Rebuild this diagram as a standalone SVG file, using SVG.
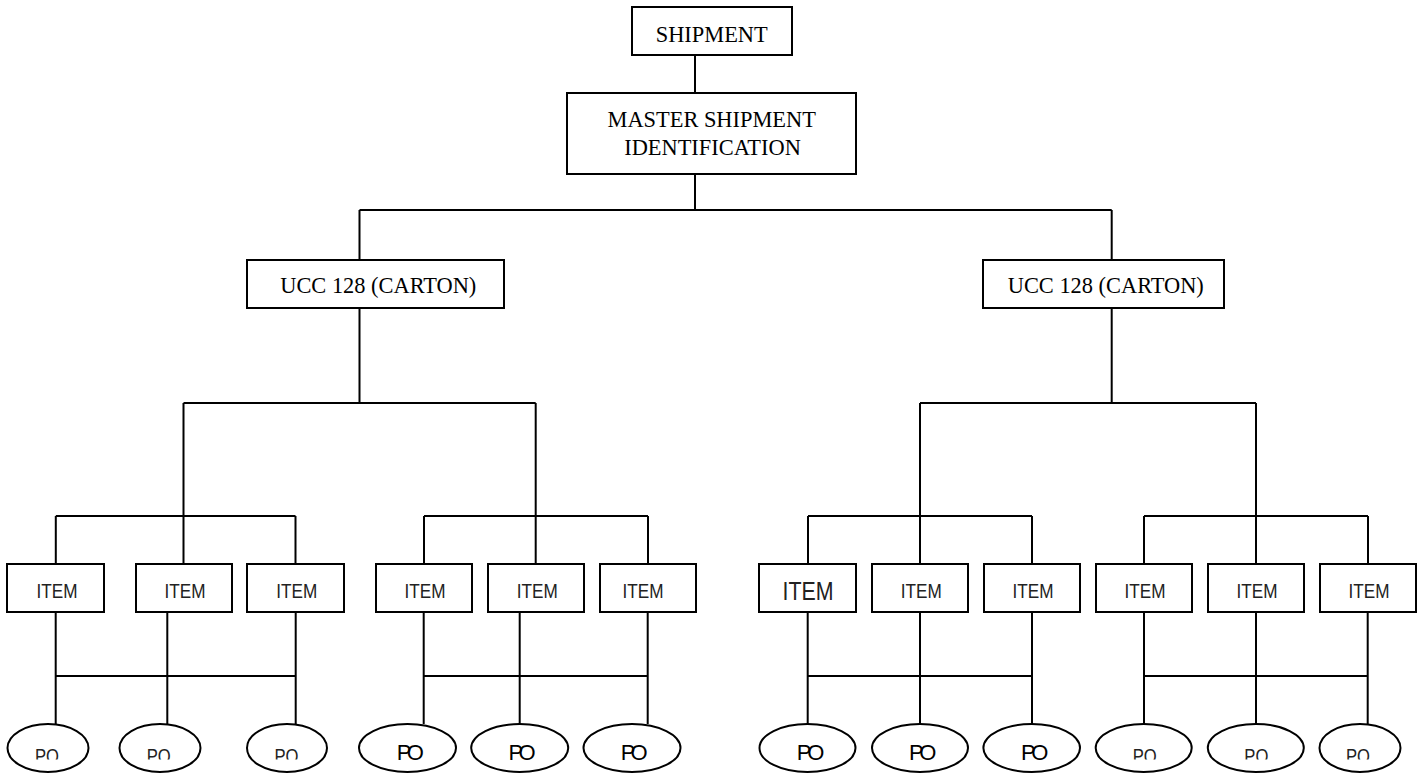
<svg xmlns="http://www.w3.org/2000/svg" width="1420" height="774" viewBox="0 0 1420 774">
<style>
.box{fill:#fff;stroke:#000;stroke-width:2}
.oval{fill:#fff;stroke:#000;stroke-width:2}
.serif{font-family:"Liberation Serif","Times New Roman",serif;font-size:22.4px;fill:#000;text-anchor:middle}
.narrow{font-family:"Liberation Sans Narrow","Liberation Sans",Arial,sans-serif;font-size:21px;fill:#222;text-anchor:middle}
.big{font-family:"Liberation Sans Narrow","Liberation Sans",Arial,sans-serif;font-size:25px;fill:#222;text-anchor:middle}
.sans{font-family:"Liberation Sans",Arial,sans-serif;font-size:22px;fill:#000;text-anchor:middle}
.conn{fill:none;stroke:#000;stroke-width:2}
</style>
<defs>
<clipPath id="poclip"><rect x="0" y="0" width="1420" height="759.5"/></clipPath>
</defs>
<rect width="1420" height="774" fill="#fff"/>
<g id="connectors" class="conn">
<path d="M695 55V93M695 174V210M359.5 210H1111.7M359.5 210V260M1111.7 210V260"/>
<path d="M359.5 308V403M183.5 403H535.7M183.5 403V564M535.7 403V564"/>
<path d="M55.8 516H295.5M55.8 516V564M295.5 516V564M424 516H648M424 516V564M648 516V564"/>
<path d="M1111.7 308V403M920 403H1256M920 403V564M1256 403V564"/>
<path d="M808 516H1032M808 516V564M1032 516V564M1144 516H1368M1144 516V564M1368 516V564"/>
<path d="M55.7 612V724M167.3 612V724M295.7 612V724M55.7 676H295.7"/>
<path d="M423.7 612V724M519.7 612V724M647.7 612V724M423.7 676H647.7"/>
<path d="M807.7 612V724M920 612V724M1032 612V724M807.7 676H1032"/>
<path d="M1144 612V724M1256 612V724M1367.7 612V724M1144 676H1367.7"/>
</g>
<g id="shipment"><rect class="box" x="632" y="7" width="160" height="48"/><text class="serif" x="711.7" y="41.5">SHIPMENT</text></g>
<g id="master"><rect class="box" x="567" y="93" width="289" height="81"/><text class="serif" x="711.7" y="126.5">MASTER SHIPMENT</text><text class="serif" x="712.5" y="155">IDENTIFICATION</text></g>
<g id="ucc-left"><rect class="box" x="247" y="260" width="257" height="48"/><text class="serif" x="378.3" y="293.3">UCC 128 (CARTON)</text></g>
<g id="ucc-right"><rect class="box" x="983" y="260" width="241" height="48"/><text class="serif" x="1105.8" y="293.3">UCC 128 (CARTON)</text></g>
<g id="item-1"><rect class="box" x="7" y="564" width="97" height="48"/><text class="narrow" x="57" y="598" textLength="41" lengthAdjust="spacingAndGlyphs">ITEM</text></g>
<g id="item-2"><rect class="box" x="136" y="564" width="96" height="48"/><text class="narrow" x="185" y="598" textLength="41" lengthAdjust="spacingAndGlyphs">ITEM</text></g>
<g id="item-3"><rect class="box" x="247" y="564" width="97" height="48"/><text class="narrow" x="296.7" y="598" textLength="41" lengthAdjust="spacingAndGlyphs">ITEM</text></g>
<g id="item-4"><rect class="box" x="376" y="564" width="96" height="48"/><text class="narrow" x="425" y="598" textLength="41" lengthAdjust="spacingAndGlyphs">ITEM</text></g>
<g id="item-5"><rect class="box" x="488" y="564" width="96" height="48"/><text class="narrow" x="537.2" y="598" textLength="41" lengthAdjust="spacingAndGlyphs">ITEM</text></g>
<g id="item-6"><rect class="box" x="600" y="564" width="96" height="48"/><text class="narrow" x="643" y="598" textLength="41" lengthAdjust="spacingAndGlyphs">ITEM</text></g>
<g id="item-7"><rect class="box" x="759" y="564" width="97" height="48"/><text class="big" x="808" y="600" textLength="51" lengthAdjust="spacingAndGlyphs">ITEM</text></g>
<g id="item-8"><rect class="box" x="872" y="564" width="96" height="48"/><text class="narrow" x="921.3" y="598" textLength="41" lengthAdjust="spacingAndGlyphs">ITEM</text></g>
<g id="item-9"><rect class="box" x="984" y="564" width="96" height="48"/><text class="narrow" x="1033" y="598" textLength="41" lengthAdjust="spacingAndGlyphs">ITEM</text></g>
<g id="item-10"><rect class="box" x="1096" y="564" width="96" height="48"/><text class="narrow" x="1145" y="598" textLength="41" lengthAdjust="spacingAndGlyphs">ITEM</text></g>
<g id="item-11"><rect class="box" x="1208" y="564" width="96" height="48"/><text class="narrow" x="1257" y="598" textLength="41" lengthAdjust="spacingAndGlyphs">ITEM</text></g>
<g id="item-12"><rect class="box" x="1320" y="564" width="96" height="48"/><text class="narrow" x="1369" y="598" textLength="41" lengthAdjust="spacingAndGlyphs">ITEM</text></g>
<g id="po-1"><ellipse class="oval" cx="48" cy="748" rx="40.5" ry="24"/><text class="narrow" x="47" y="762.5" textLength="24" lengthAdjust="spacingAndGlyphs" clip-path="url(#poclip)">PO</text></g>
<g id="po-2"><ellipse class="oval" cx="160" cy="748" rx="40.5" ry="24"/><text class="narrow" x="158.7" y="762.5" textLength="24" lengthAdjust="spacingAndGlyphs" clip-path="url(#poclip)">PO</text></g>
<g id="po-3"><ellipse class="oval" cx="287" cy="748" rx="40" ry="24"/><text class="narrow" x="286.5" y="762.5" textLength="24" lengthAdjust="spacingAndGlyphs" clip-path="url(#poclip)">PO</text></g>
<g id="po-4"><ellipse class="oval" cx="407.5" cy="748" rx="48.5" ry="24"/><text class="sans" x="410.3" y="760" textLength="27" lengthAdjust="spacing">PO</text></g>
<g id="po-5"><ellipse class="oval" cx="519.7" cy="748" rx="48.5" ry="24"/><text class="sans" x="522" y="760" textLength="27" lengthAdjust="spacing">PO</text></g>
<g id="po-6"><ellipse class="oval" cx="632" cy="748" rx="48.5" ry="24"/><text class="sans" x="634.2" y="760" textLength="27" lengthAdjust="spacing">PO</text></g>
<g id="po-7"><ellipse class="oval" cx="807.5" cy="748" rx="48" ry="24"/><text class="sans" x="810.5" y="760" textLength="27.5" lengthAdjust="spacing">PO</text></g>
<g id="po-8"><ellipse class="oval" cx="920" cy="748" rx="48" ry="24"/><text class="sans" x="922.7" y="760" textLength="27.5" lengthAdjust="spacing">PO</text></g>
<g id="po-9"><ellipse class="oval" cx="1031.7" cy="748" rx="48.3" ry="24"/><text class="sans" x="1034.7" y="760" textLength="27.5" lengthAdjust="spacing">PO</text></g>
<g id="po-10"><ellipse class="oval" cx="1143.7" cy="748" rx="48" ry="24"/><text class="narrow" x="1144.7" y="762.5" textLength="24" lengthAdjust="spacingAndGlyphs" clip-path="url(#poclip)">PO</text></g>
<g id="po-11"><ellipse class="oval" cx="1255.8" cy="748" rx="48" ry="24"/><text class="narrow" x="1256.3" y="762.5" textLength="24" lengthAdjust="spacingAndGlyphs" clip-path="url(#poclip)">PO</text></g>
<g id="po-12"><ellipse class="oval" cx="1360" cy="748" rx="40.5" ry="24"/><text class="narrow" x="1358" y="762.5" textLength="24" lengthAdjust="spacingAndGlyphs" clip-path="url(#poclip)">PO</text></g>
</svg>
